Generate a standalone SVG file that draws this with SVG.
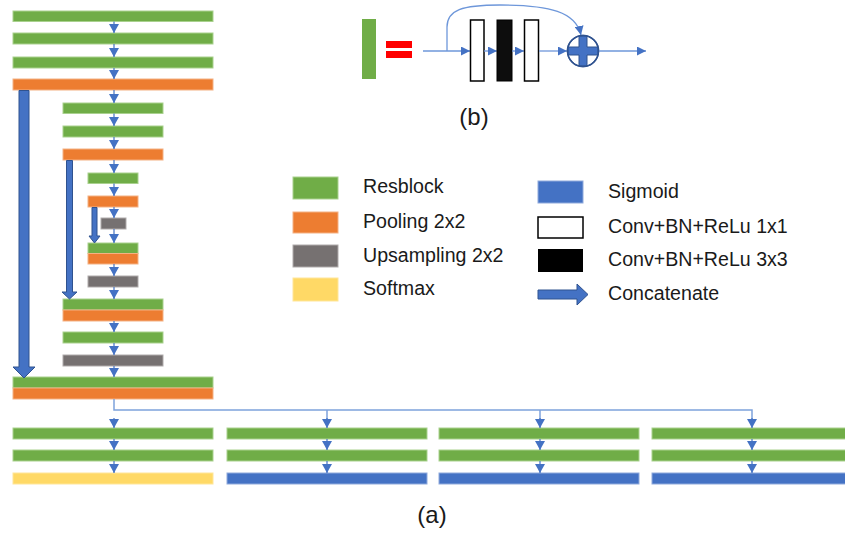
<svg xmlns="http://www.w3.org/2000/svg" width="845" height="538" viewBox="0 0 845 538">
  <style>
    .res { fill: #70AD47; stroke: #A9D18E; stroke-width: 1; }
    .pool { fill: #ED7D31; stroke: #F4B183; stroke-width: 1; }
    .up { fill: #767171; stroke: #AFABAB; stroke-width: 1; }
    .soft { fill: #FFD966; stroke: #FFE699; stroke-width: 1; }
    .sig { fill: #4472C4; stroke: #8FAADC; stroke-width: 1; }
    .flow { stroke: #4472C4; stroke-width: 1.2; fill: none; marker-end: url(#flowHead); }
    .bus { stroke: #7EA2DC; stroke-width: 1.5; fill: none; }
    .concat { fill: #4472C4; stroke: #2F528F; stroke-width: 1; }
    .thin { stroke: #6E97DA; stroke-width: 1.3; fill: none; marker-end: url(#thinHead); }
    .label { font-family: "Liberation Sans", Arial, sans-serif; font-size: 19.6px; fill: #1a1a1a; }
    .cap { font-family: "Liberation Sans", Arial, sans-serif; font-size: 24px; fill: #1a1a1a; text-anchor: middle; }
  </style>
  <defs>
    <marker id="flowHead" viewBox="0 0 10 10" refX="10" refY="5" markerWidth="9.5" markerHeight="10.5" markerUnits="userSpaceOnUse" orient="auto" preserveAspectRatio="none">
      <path d="M0,0 L10,5 L0,10 Z" fill="#4472C4"/>
    </marker>
    <marker id="thinHead" viewBox="0 0 10 10" refX="10" refY="5" markerWidth="9" markerHeight="9" markerUnits="userSpaceOnUse" orient="auto" preserveAspectRatio="none">
      <path d="M0,0 L10,5 L0,10 Z" fill="#4472C4"/>
    </marker>
  </defs>

  <rect width="845" height="538" fill="#ffffff"/>

  <!-- encoder / decoder blocks -->
  <g id="enc1-res1"><rect class="res" x="13" y="11" width="200" height="10.5"/></g>
  <g id="enc1-res2"><rect class="res" x="13" y="33" width="200" height="11"/></g>
  <g id="enc1-res3"><rect class="res" x="13" y="57" width="200" height="11"/></g>
  <g id="enc1-pool"><rect class="pool" x="13" y="79" width="200" height="11"/></g>

  <g id="enc2-res1"><rect class="res" x="63" y="103" width="100" height="10.5"/></g>
  <g id="enc2-res2"><rect class="res" x="63" y="126" width="100" height="11"/></g>
  <g id="enc2-pool"><rect class="pool" x="63" y="149" width="100" height="11"/></g>

  <g id="enc3-res"><rect class="res" x="88" y="173" width="50" height="10.5"/></g>
  <g id="enc3-pool"><rect class="pool" x="88" y="196" width="50" height="11"/></g>

  <g id="bottom-up"><rect class="up" x="101" y="218" width="25" height="11"/></g>

  <g id="dec3-merge">
    <rect class="res" x="88" y="243" width="50" height="10.5"/>
    <rect class="pool" x="88" y="253.5" width="50" height="10.5"/>
  </g>
  <g id="dec3-up"><rect class="up" x="88" y="276" width="50" height="11"/></g>

  <g id="dec2-merge">
    <rect class="res" x="63" y="299" width="100" height="11"/>
    <rect class="pool" x="63" y="310" width="100" height="11"/>
  </g>
  <g id="dec2-res"><rect class="res" x="63" y="332" width="100" height="11"/></g>
  <g id="dec2-up"><rect class="up" x="63" y="355" width="100" height="11"/></g>

  <g id="dec1-merge">
    <rect class="res" x="13" y="377" width="200" height="11"/>
    <rect class="pool" x="13" y="388" width="200" height="11"/>
  </g>

  <!-- output heads -->
  <g id="head1">
    <rect class="res" x="13" y="428" width="200" height="11"/>
    <rect class="res" x="13" y="450" width="200" height="11"/>
    <rect class="soft" x="13" y="473" width="200" height="11"/>
  </g>
  <g id="head2">
    <rect class="res" x="227" y="428" width="200" height="11"/>
    <rect class="res" x="227" y="450" width="200" height="11"/>
    <rect class="sig" x="227" y="473" width="200" height="11"/>
  </g>
  <g id="head3">
    <rect class="res" x="439" y="428" width="200" height="11"/>
    <rect class="res" x="439" y="450" width="200" height="11"/>
    <rect class="sig" x="439" y="473" width="200" height="11"/>
  </g>
  <g id="head4">
    <rect class="res" x="652" y="428" width="200" height="11"/>
    <rect class="res" x="652" y="450" width="200" height="11"/>
    <rect class="sig" x="652" y="473" width="200" height="11"/>
  </g>

  <!-- connectors -->
  <g id="connectors">
    <line class="flow" x1="114" y1="21.5" x2="114" y2="33"/>
    <line class="flow" x1="114" y1="44" x2="114" y2="57"/>
    <line class="flow" x1="114" y1="68" x2="114" y2="79"/>
    <line class="flow" x1="114" y1="90" x2="114" y2="103"/>
    <line class="flow" x1="114" y1="113.5" x2="114" y2="126"/>
    <line class="flow" x1="114" y1="137" x2="114" y2="149"/>
    <line class="flow" x1="114" y1="160" x2="114" y2="173"/>
    <line class="flow" x1="114" y1="183.5" x2="114" y2="196"/>
    <line class="flow" x1="114" y1="207" x2="114" y2="218"/>
    <line class="flow" x1="114" y1="229" x2="114" y2="243"/>
    <line class="flow" x1="114" y1="264" x2="114" y2="276"/>
    <line class="flow" x1="114" y1="287" x2="114" y2="299"/>
    <line class="flow" x1="114" y1="321" x2="114" y2="332"/>
    <line class="flow" x1="114" y1="343" x2="114" y2="355"/>
    <line class="flow" x1="114" y1="366" x2="114" y2="377"/>

    <!-- fan-out to the four heads -->
    <polyline class="bus" points="114,399 114,410 752,410 752,419"/>
    <line class="bus" x1="327" y1="410" x2="327" y2="419"/>
    <line class="bus" x1="540" y1="410" x2="540" y2="419"/>
    <line class="flow" x1="114" y1="418" x2="114" y2="428"/>
    <line class="flow" x1="327" y1="418" x2="327" y2="428"/>
    <line class="flow" x1="540" y1="418" x2="540" y2="428"/>
    <line class="flow" x1="752" y1="418" x2="752" y2="428"/>

    <line class="flow" x1="114" y1="439" x2="114" y2="450"/>
    <line class="flow" x1="114" y1="461" x2="114" y2="473"/>
    <line class="flow" x1="327" y1="439" x2="327" y2="450"/>
    <line class="flow" x1="327" y1="461" x2="327" y2="473"/>
    <line class="flow" x1="540" y1="439" x2="540" y2="450"/>
    <line class="flow" x1="540" y1="461" x2="540" y2="473"/>
    <line class="flow" x1="752" y1="439" x2="752" y2="450"/>
    <line class="flow" x1="752" y1="461" x2="752" y2="473"/>

    <!-- skip (concatenate) arrows -->
    <path class="concat" d="M19,90.5 L29,90.5 L29,367 L35,367 L24,378 L13,367 L19,367 Z"/>
    <path class="concat" d="M66.5,160.5 L72.5,160.5 L72.5,292 L77,292 L69.5,299 L62,292 L66.5,292 Z"/>
    <path class="concat" d="M92,207.5 L97,207.5 L97,236 L100,236 L94.5,243 L89,236 L92,236 Z"/>
  </g>

  <!-- (b) residual block detail -->
  <g id="resblock-detail">
    <rect x="362" y="19" width="14" height="60" fill="#70AD47"/>
    <rect x="386" y="41" width="26" height="7" fill="#FF0000"/>
    <rect x="386" y="51" width="26" height="7" fill="#FF0000"/>
    <line class="thin" x1="423" y1="51" x2="470" y2="51"/>
    <rect x="470.5" y="20" width="13.5" height="61" fill="#ffffff" stroke="#000000" stroke-width="1.5"/>
    <line class="thin" x1="484" y1="51" x2="497" y2="51"/>
    <rect x="497" y="20" width="15" height="61" fill="#0d0d0d" stroke="#000000" stroke-width="1"/>
    <line class="thin" x1="512" y1="51" x2="524" y2="51"/>
    <rect x="524.5" y="20" width="14" height="61" fill="#ffffff" stroke="#000000" stroke-width="1.5"/>
    <line class="thin" x1="539" y1="51" x2="567" y2="51"/>
    <path class="thin" d="M447,51 L447,27 C447,10 462,5 500,5 C550,5 576,12 581,35"/>
    <g id="sum">
      <circle cx="583" cy="51" r="15.5" fill="#ffffff" stroke="#2F528F" stroke-width="1.5"/>
      <path d="M579,36 L587,36 L587,47 L598,47 L598,55 L587,55 L587,66 L579,66 L579,55 L568,55 L568,47 L579,47 Z" fill="#4472C4" stroke="#2F528F" stroke-width="1"/>
      <circle cx="583" cy="51" r="15.5" fill="none" stroke="#2F528F" stroke-width="1.5"/>
    </g>
    <line class="thin" x1="599" y1="51" x2="646" y2="51"/>
  </g>

  <text class="cap" x="474" y="125">(b)</text>
  <text class="cap" x="432" y="523">(a)</text>

  <!-- legend -->
  <g id="legend">
    <rect class="res" x="293" y="177" width="45" height="22" stroke="#BFBFBF"/>
    <text class="label" x="363" y="193">Resblock</text>
    <rect class="pool" x="293" y="212" width="45" height="21" stroke="#BFBFBF"/>
    <text class="label" x="363" y="228">Pooling 2x2</text>
    <rect class="up" x="293" y="245" width="45" height="22" stroke="#BFBFBF"/>
    <text class="label" x="363" y="262">Upsampling 2x2</text>
    <rect class="soft" x="293" y="278" width="45" height="23" stroke="#BFBFBF"/>
    <text class="label" x="363" y="295">Softmax</text>

    <rect class="sig" x="538" y="181" width="45" height="22" stroke="#BFBFBF"/>
    <text class="label" x="608" y="198">Sigmoid</text>
    <rect x="538" y="217" width="45" height="21" fill="#ffffff" stroke="#000000" stroke-width="1.5"/>
    <text class="label" x="608" y="233">Conv+BN+ReLu 1x1</text>
    <rect x="538" y="249" width="45" height="23" fill="#000000"/>
    <text class="label" x="608" y="266">Conv+BN+ReLu 3x3</text>
    <path class="concat" d="M538,290 L577,290 L577,284 L588,294.5 L577,305 L577,299 L538,299 Z"/>
    <text class="label" x="608" y="300">Concatenate</text>
  </g>
</svg>
